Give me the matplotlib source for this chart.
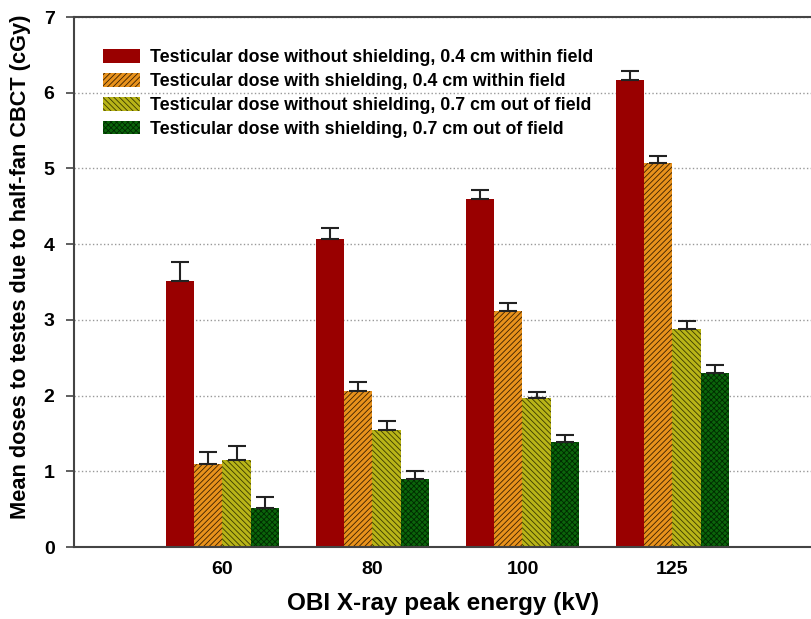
import numpy as np
import matplotlib
matplotlib.use("Agg")
import matplotlib.pyplot as plt

energies = ["60", "80", "100", "125"]
labels = [
    "Testicular dose without shielding, 0.4 cm within field",
    "Testicular dose with shielding, 0.4 cm within field",
    "Testicular dose without shielding, 0.7 cm out of field",
    "Testicular dose with shielding, 0.7 cm out of field",
]
no_shield_04 = [3.52, 4.07, 4.60, 6.17]
shield_04 = [1.09, 2.06, 3.12, 5.07]
no_shield_07 = [1.15, 1.55, 1.97, 2.88]
shield_07 = [0.52, 0.90, 1.39, 2.30]
err_no_shield_04 = [0.24, 0.15, 0.11, 0.12]
err_shield_04 = [0.16, 0.12, 0.10, 0.10]
err_no_shield_07 = [0.18, 0.12, 0.08, 0.11]
err_shield_07 = [0.14, 0.11, 0.09, 0.10]

series = [no_shield_04, shield_04, no_shield_07, shield_07]
errors = [err_no_shield_04, err_shield_04, err_no_shield_07, err_shield_07]
colors = ["#990000", "#e8921c", "#b8b418", "#0b650b"]
hatch_colors = ["#990000", "#3a2000", "#3a3a00", "#002a00"]
hatches = [None, "//////", "\\\\\\\\\\\\", "xxxxxx"]

plt.rcParams["font.family"] = ["Liberation Sans", "DejaVu Sans"]
plt.rcParams["font.weight"] = "bold"
plt.rcParams["hatch.linewidth"] = 0.6

fig = plt.figure(figsize=(8.12, 6.19), dpi=100)
ax = fig.add_axes([0.0911, 0.1163, 0.9089, 0.8562])

x = np.arange(len(energies))
w = 0.1875
for i in range(4):
    pos = x + (i - 1.5) * w
    ax.bar(pos, series[i], width=w, color=colors[i], edgecolor=hatch_colors[i],
           hatch=hatches[i], linewidth=0, label=labels[i], zorder=2)
    ax.errorbar(pos, series[i], yerr=[np.zeros(4), errors[i]], fmt="none",
                ecolor="#222222", elinewidth=1.5, capsize=6.5, capthick=1.5, zorder=3)

ax.set_xlim(-0.99, 3.93)
ax.set_ylim(0, 7)
ax.set_yticks(range(8))
ax.set_xticks(x)
ax.set_xticklabels(energies)
ax.tick_params(axis="x", length=0, pad=10, labelsize=14)
ax.tick_params(axis="y", length=6, width=1.2, color="#444444", labelsize=14, pad=8)
for lab in ax.get_xticklabels() + ax.get_yticklabels():
    lab.set_fontweight("bold")

ax.yaxis.grid(True, linestyle=":", color="#999999", linewidth=1.0, zorder=0)
ax.set_axisbelow(True)

ax.spines["right"].set_visible(False)
for s in ["top", "left", "bottom"]:
    ax.spines[s].set_color("#444444")
    ax.spines[s].set_linewidth(1.5)

ax.set_xlabel("OBI X-ray peak energy (kV)", fontsize=17.5, fontweight="bold", labelpad=10)
ax.set_ylabel("Mean doses to testes due to half-fan CBCT (cGy)", fontsize=15.7, fontweight="bold")
ax.yaxis.set_label_coords(-0.058, 0.528)

leg = ax.legend(loc="upper left", bbox_to_anchor=(0.017, 0.969), frameon=False,
                prop={"size": 12.8, "weight": "bold"}, handlelength=2.13,
                handleheight=0.8, labelspacing=0.38, handletextpad=0.56)

fig.savefig("out.png", dpi=100)
